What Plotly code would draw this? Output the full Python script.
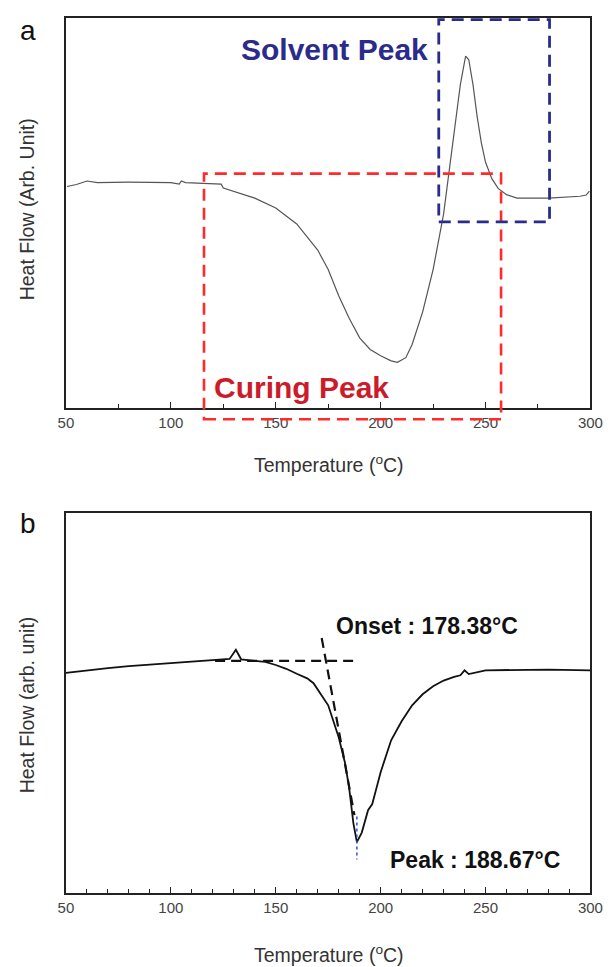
import plotly.graph_objects as go

# ---------------- data ----------------
# Panel a: DSC curve (arbitrary units, 0 = bottom of axis, 100 = top)
temp_a = [50.5, 55, 60, 65, 80, 100, 104, 105, 107, 120, 124, 125, 130, 140, 150, 160, 170, 175, 180,
          185, 190, 195, 200, 205, 208, 212, 215, 220, 225, 230, 233, 236, 238, 240.5, 242,
          244, 246, 248, 250, 253, 256, 260, 265, 280, 295, 298, 299.5]
flow_a = [56.8, 57.3, 58.2, 57.8, 57.9, 57.8, 57.4, 58.2, 57.8, 57.5, 57.4, 56.4, 55.6, 53.8, 51.3, 47.2, 40.5, 35.5, 28.8,
          23.0, 18.0, 15.0, 13.4, 12.1, 11.7, 12.9, 16.3, 24.6, 35.5, 49.7, 62.2, 74.7, 83.0, 90.2, 89.3,
          83.0, 74.7, 68.0, 63.0, 58.8, 56.3, 54.7, 53.8, 53.8, 54.3, 54.6, 55.6]

# Panel b: DSC curve
temp_b = [50, 60, 70, 80, 90, 100, 110, 120, 128, 131, 133.5, 140, 145, 150, 155, 160, 165, 168,
          170, 175, 180, 183, 185, 187, 188.67, 191, 194, 196, 198, 200, 205, 210, 215, 220, 225,
          230, 235, 238, 240, 242, 250, 260, 280, 300]
flow_b = [57.9, 58.6, 59.2, 59.7, 60.1, 60.5, 60.9, 61.3, 61.6, 64.0, 61.5, 61.1, 60.8, 60.0, 59.0, 57.7, 56.5, 55.2,
          53.6, 49.4, 41.0, 34.3, 27.6, 18.4, 13.4, 15.9, 21.8, 23.4, 27.6, 31.8, 40.2, 45.2, 49.4, 52.3, 54.4,
          55.9, 56.9, 57.3, 58.6, 57.6, 58.6, 58.7, 58.8, 58.6]

# Onset construction lines (panel b)
baseline_x = [121.1, 188.9]
baseline_y = [61.1, 61.1]
tangent_x = [171.9, 187.5]
tangent_y = [67.1, 20.5]
peak_x = [188.67, 188.67]
peak_y = [20.1, 8.8]

# Highlight boxes (panel a), in temperature / heat-flow units
curing_box = dict(t0=115.8, t1=257.4, h0=-2.9, h1=60.1)
solvent_box = dict(t0=227.7, t1=280.5, h0=47.7, h1=99.6)

x_range = [50, 300]
x_ticks = [50, 100, 150, 200, 250, 300]

# ---------------- layout geometry ----------------
W, H = 616, 967
XD = [60 / W, 603 / W]
YD_A = [1 - 408 / H, 1 - 18 / H]
YD_B = [1 - 893 / H, 1 - 513 / H]

fig = go.Figure()

fig.add_trace(go.Scatter(x=temp_a, y=flow_a, mode="lines", xaxis="x", yaxis="y",
                         line=dict(color="#555555", width=1.2), showlegend=False))
fig.add_trace(go.Scatter(x=temp_b, y=flow_b, mode="lines", xaxis="x2", yaxis="y2",
                         line=dict(color="#111111", width=1.8), showlegend=False))
fig.add_trace(go.Scatter(x=baseline_x, y=baseline_y, mode="lines", xaxis="x2", yaxis="y2",
                         line=dict(color="#111111", width=2.2, dash="10px,6px"), showlegend=False))
fig.add_trace(go.Scatter(x=tangent_x, y=tangent_y, mode="lines", xaxis="x2", yaxis="y2",
                         line=dict(color="#111111", width=2.2, dash="10px,6px"), showlegend=False))
fig.add_trace(go.Scatter(x=peak_x, y=peak_y, mode="lines", xaxis="x2", yaxis="y2",
                         line=dict(color="#3b4bd0", width=1.5, dash="dot"), showlegend=False))

plain_font = "Liberation Sans, Arial, sans-serif"

axis_common = dict(range=x_range, showline=True, linecolor="#222222", linewidth=1.5, mirror=True,
                   showgrid=False, zeroline=False, ticks="inside", ticklen=6, tickwidth=1.2,
                   tickcolor="#222222", tickvals=x_ticks,
                   tickfont=dict(family=plain_font, size=15, color="#444444"))
yaxis_common = dict(range=[0, 100], showline=True, linecolor="#222222", linewidth=1.5, mirror=True,
                    showgrid=False, zeroline=False, showticklabels=False, ticks="")

fig.update_layout(
    width=W, height=H, margin=dict(l=0, r=0, t=0, b=0),
    paper_bgcolor="white", plot_bgcolor="white",
    xaxis=dict(domain=XD, anchor="y",
               minor=dict(ticks="inside", ticklen=4, tickwidth=1.2, tickcolor="#222222", dtick=25, tick0=50),
               **axis_common),
    yaxis=dict(domain=YD_A, anchor="x", **yaxis_common),
    xaxis2=dict(domain=XD, anchor="y2",
                minor=dict(ticks="inside", ticklen=4, tickwidth=1.2, tickcolor="#222222", dtick=10, tick0=50),
                **axis_common),
    yaxis2=dict(domain=YD_B, anchor="x2", **yaxis_common),
)


def tx(t):
    return XD[0] + (t - x_range[0]) / (x_range[1] - x_range[0]) * (XD[1] - XD[0])


def hy(h, dom):
    return dom[0] + h / 100 * (dom[1] - dom[0])


fig.add_shape(type="rect", xref="paper", yref="paper",
              x0=tx(curing_box["t0"]), x1=tx(curing_box["t1"]),
              y0=hy(curing_box["h0"], YD_A), y1=hy(curing_box["h1"], YD_A),
              line=dict(color="#ff2b2b", width=2.6, dash="12px,7px"))
fig.add_shape(type="rect", xref="paper", yref="paper",
              x0=tx(solvent_box["t0"]), x1=tx(solvent_box["t1"]),
              y0=hy(solvent_box["h0"], YD_A), y1=hy(solvent_box["h1"], YD_A),
              line=dict(color="#2b2b8c", width=2.8, dash="12px,7px"))

bold_font = "Liberation Sans, Arial, sans-serif"

ann = [
    dict(text="<b>Solvent Peak</b>", x=177.8, y=92.0, xref="x", yref="y",
         font=dict(family=bold_font, size=30, color="#2b2b8c")),
    dict(text="<b>Curing Peak</b>", x=162.3, y=5.3, xref="x", yref="y",
         font=dict(family=bold_font, size=30, color="#cc1b2b")),
    dict(text="<b>Onset : 178.38°C</b>", x=222.2, y=70.3, xref="x2", yref="y2",
         font=dict(family=bold_font, size=23, color="#111111")),
    dict(text="<b>Peak : 188.67°C</b>", x=245.2, y=8.6, xref="x2", yref="y2",
         font=dict(family=bold_font, size=23, color="#111111")),
    dict(text="a", x=21 / W, y=1 - 30 / H, xref="paper", yref="paper",
         font=dict(family=plain_font, size=28, color="#111111")),
    dict(text="b", x=21 / W, y=1 - 523 / H, xref="paper", yref="paper",
         font=dict(family=plain_font, size=28, color="#111111")),
    dict(text="Temperature (<sup>o</sup>C)", x=332 / W, y=1 - 464 / H, xref="paper", yref="paper",
         font=dict(family=plain_font, size=19.5, color="#333333")),
    dict(text="Temperature (<sup>o</sup>C)", x=332 / W, y=1 - 954 / H, xref="paper", yref="paper",
         font=dict(family=plain_font, size=19.5, color="#333333")),
    dict(text="Heat Flow (Arb. Unit)", x=20 / W, y=1 - 209 / H, xref="paper", yref="paper",
         textangle=-90, font=dict(family=plain_font, size=19.5, color="#333333")),
    dict(text="Heat Flow (arb. unit)", x=20 / W, y=1 - 705 / H, xref="paper", yref="paper",
         textangle=-90, font=dict(family=plain_font, size=19.5, color="#333333")),
]
for a in ann:
    a.setdefault("showarrow", False)
    a.setdefault("xanchor", "center")
    a.setdefault("yanchor", "middle")
    fig.add_annotation(**a)

fig.write_html("out.html")
